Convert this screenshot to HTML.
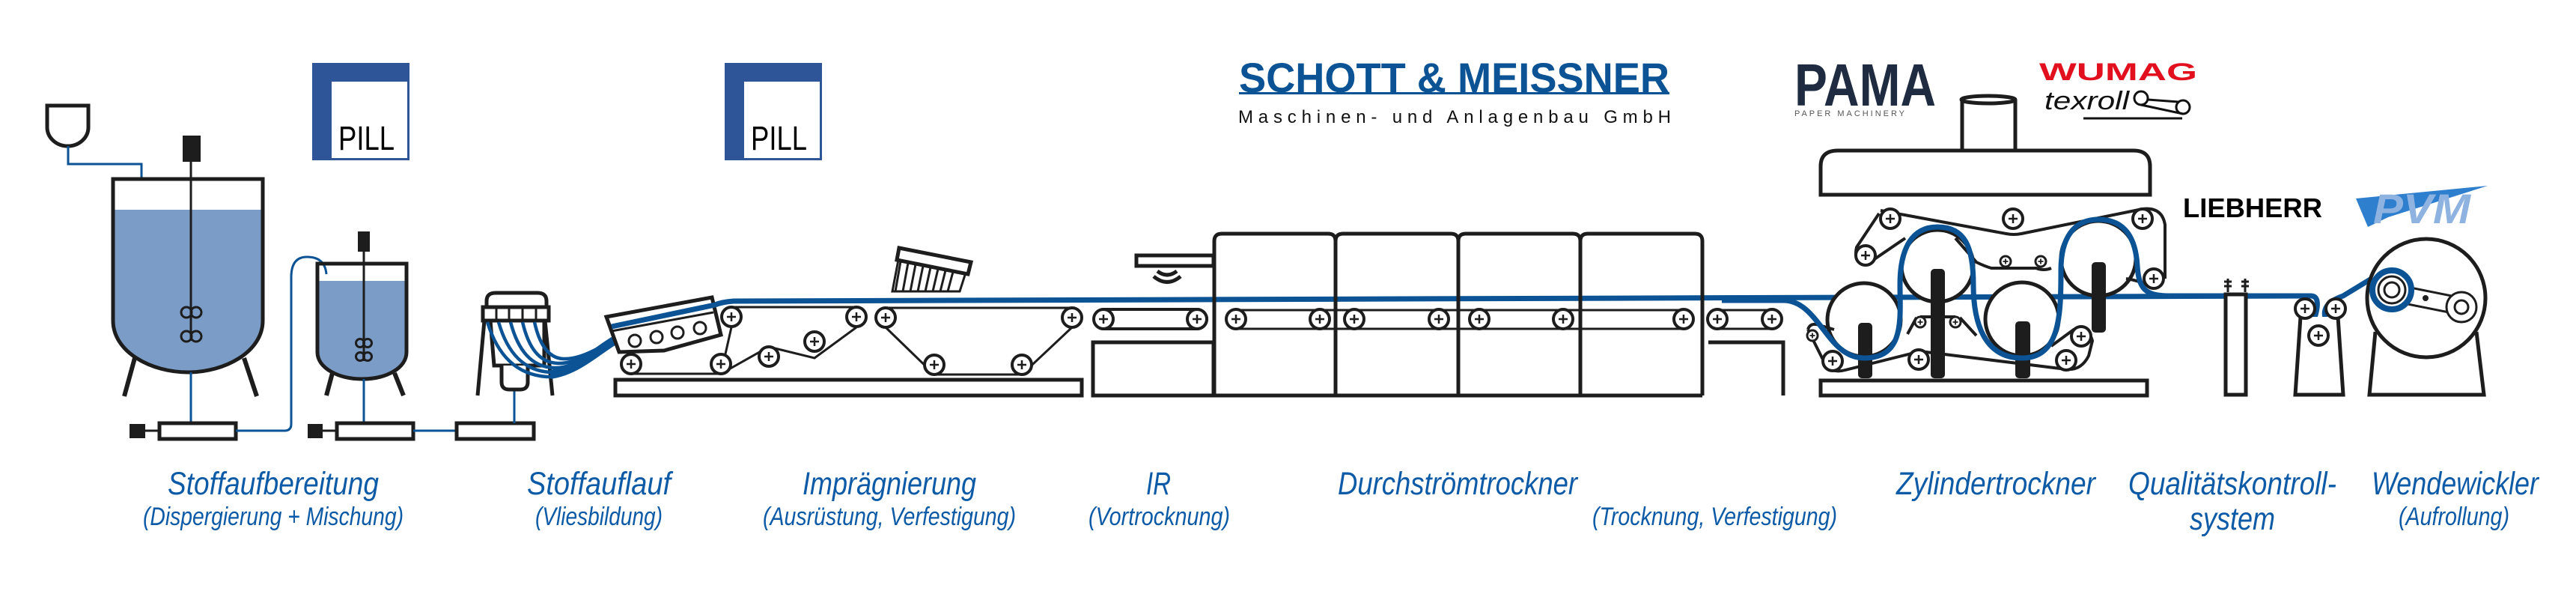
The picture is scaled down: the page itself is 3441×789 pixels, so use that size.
<!DOCTYPE html>
<html><head><meta charset="utf-8"><style>
html,body{margin:0;padding:0;background:#fff;}
svg{display:block}
</style></head><body>
<svg width="3441" height="789" viewBox="0 0 3441 789" xmlns="http://www.w3.org/2000/svg">
<defs>
<g id="r"><circle r="13" fill="#fff" stroke="#1d1d1d" stroke-width="4"/><path d="M-6 0H6M0 -6V6" stroke="#1d1d1d" stroke-width="2.5"/></g>
<g id="rs"><circle r="7" fill="#fff" stroke="#1d1d1d" stroke-width="3"/><path d="M-3.5 0H3.5M0 -3.5V3.5" stroke="#1d1d1d" stroke-width="1.8"/></g>
</defs>
<g fill="none" stroke="#1d1d1d" stroke-width="5">
<!-- funnel -->
<path d="M63 141H118V170A27.5 25 0 0 1 63 170Z" fill="#fff"/>
<path d="M91 195V219H189V239" stroke="#0b5394" stroke-width="3"/>
<!-- tank1 -->
<path d="M152 280H350V428C350 470 300 497 251 497C202 497 152 470 152 428Z" fill="#7b9cc6" stroke="none"/>
<path d="M151 239H351V428C351 470 300 497 251 497C202 497 151 470 151 428Z"/>
<path d="M180 478L166 529M326 478L343 529" stroke-width="6"/>
<rect x="244" y="181" width="24" height="35" fill="#1d1d1d" stroke="none"/>
<path d="M255 216V455" stroke-width="3"/>
<circle cx="249" cy="417" r="7" stroke-width="3"/><circle cx="262" cy="417" r="7" stroke-width="3"/>
<circle cx="249" cy="449" r="7" stroke-width="3"/><circle cx="262" cy="449" r="7" stroke-width="3"/>
<path d="M255 497V565" stroke="#0b5394" stroke-width="3"/>
<rect x="213" y="565" width="102" height="21" fill="#fff"/>
<rect x="173" y="566" width="21" height="19" fill="#1d1d1d" stroke="none"/>
<path d="M194 575H213" stroke-width="3"/>
<path d="M315 575H380Q389 575 389 566V370Q389 343 410 343Q434 343 436 366" stroke="#0b5394" stroke-width="3"/>
<!-- tank2 -->
<path d="M425 375H542V470C542 492 515 506 484 506C453 506 425 492 425 470Z" fill="#7b9cc6" stroke="none"/>
<path d="M424 352H543V470C543 492 515 506 484 506C453 506 424 492 424 470Z"/>
<path d="M444 498L436 528M527 498L539 528" stroke-width="6"/>
<rect x="478" y="309" width="16" height="27" fill="#1d1d1d" stroke="none"/>
<path d="M486 336V482" stroke-width="3"/>
<circle cx="481" cy="458" r="5.5" stroke-width="3"/><circle cx="491" cy="458" r="5.5" stroke-width="3"/>
<circle cx="481" cy="476" r="5.5" stroke-width="3"/><circle cx="491" cy="476" r="5.5" stroke-width="3"/>
<path d="M486 506V565" stroke="#0b5394" stroke-width="3"/>
<rect x="450" y="565" width="102" height="21" fill="#fff"/>
<rect x="411" y="566" width="20" height="19" fill="#1d1d1d" stroke="none"/>
<path d="M431 575H450" stroke-width="3"/>
<path d="M552 575H610" stroke="#0b5394" stroke-width="3"/>
<rect x="610" y="565" width="103" height="21" fill="#fff"/>
<path d="M687 565V518" stroke="#0b5394" stroke-width="3"/>
<!-- headbox -->
<path d="M647 428L638 528M728 428L738 528" stroke-width="5"/>
<path d="M655 428L660 488H727L727 428" fill="#fff"/>
<path d="M670 488V510Q670 520 680 520H695Q705 520 705 510V488" fill="#fff"/>
<path d="M650 410V402Q650 391 662 391H718Q730 391 730 402V410" fill="#fff"/>
<rect x="645" y="410" width="88" height="18" fill="#fff"/>
<path d="M663 410V428M680 410V428M698 410V428M716 410V428" stroke-width="3"/>
<g stroke="#0b5394" stroke-width="4.5">
<path d="M651 430C665 475 690 500 730 503C760 504 790 475 818 455"/>
<path d="M666 430C678 472 700 495 735 497C765 498 790 472 818 455"/>
<path d="M682 430C692 468 710 490 740 491C768 492 792 470 818 455"/>
<path d="M698 430C706 464 720 484 745 485C770 486 795 468 818 455"/>
<path d="M714 430C720 458 732 478 752 479C775 480 797 466 818 455"/>
</g>
<path d="M735 500C770 495 795 470 820 455" stroke="#0b5394" stroke-width="12"/>
<!-- former -->
<path d="M810 423L951 397L963 447L887 468L827 470Z" fill="#fff"/>
<path d="M817 442L953 417" stroke-width="3"/>
<circle cx="848" cy="455" r="8" stroke-width="3"/><circle cx="877" cy="450" r="8" stroke-width="3"/>
<circle cx="905" cy="444" r="8" stroke-width="3"/><circle cx="935" cy="438" r="8" stroke-width="3"/>
<path d="M817 436L955 407Q965 403 980 402L3087 395" stroke="#0b5394" stroke-width="7"/>
<!-- impregnation conveyor -->
<rect x="822" y="507" width="623" height="21" fill="#fff"/>
<path d="M843 499H963L1027 463L1088 478L1144 437M977 410H1144M977 437L963 499" stroke-width="3"/>
<path d="M1183 411H1432M1183 437L1248 500H1365L1432 437" stroke-width="3"/>
<!-- brush -->
<path d="M1201 331L1297 350L1293 366L1198 347Z" fill="#fff"/>
<path d="M1200 347L1192 389H1282L1290 364M1203 349L1196 389M1213 351L1206 389M1223 353L1216 389M1233 355L1226 389M1243 357L1236 389M1253 359L1246 389M1263 361L1256 389M1273 363L1266 389" stroke-width="3"/>
<!-- IR -->
<rect x="1518" y="341" width="103" height="14" fill="#fff"/>
<path d="M1546 362Q1559 372 1572 362" stroke-width="5"/>
<path d="M1541 369Q1559 384 1577 369" stroke-width="5"/>
<rect x="1462" y="413" width="150" height="26" rx="13" stroke-width="4"/>
<rect x="1460" y="457" width="161" height="71" fill="#fff"/>
<!-- dryer chambers -->
<path d="M1622 528V322Q1622 312 1632 312H1774Q1784 312 1784 322V528M1784 322Q1784 312 1794 312H1938Q1948 312 1948 322V528M1948 322Q1948 312 1958 312H2101Q2111 312 2111 322V528M2111 322Q2111 312 2121 312H2264Q2274 312 2274 322V528M1622 528H2274"/>
<path d="M1651 414H2249M1651 439H2249" stroke-width="3"/>
<path d="M2282 457H2382V528" />
<path d="M2294 414H2367M2294 439H2367" stroke-width="3"/>
<!-- cylinder dryer -->
<path d="M2621 201V133M2692 201V133" />
<ellipse cx="2656" cy="133" rx="36" ry="5" fill="#fff"/>
<path d="M2432 260V222Q2432 201 2455 201H2850Q2872 201 2872 222V260Z" fill="#fff"/>
<rect x="2432" y="508" width="436" height="20" fill="#fff"/>
<circle cx="2490" cy="427" r="49" fill="#fff"/>
<circle cx="2588" cy="355" r="48" fill="#fff"/>
<circle cx="2701" cy="426" r="49" fill="#fff"/>
<circle cx="2803" cy="345" r="50" fill="#fff"/>
<!-- felts -->
<path d="M2512 281L2680 312Q2690 314 2700 312L2862 279Q2888 276 2892 300L2892 372M2879 385Q2860 375 2840 372M2740 358Q2730 362 2720 358L2660 358Q2650 355 2640 350L2612 318M2545 318L2495 352Q2475 352 2480 330L2510 285" stroke-width="4"/>
<path d="M2415 440L2440 490Q2450 498 2465 494L2565 469L2760 493Q2780 495 2790 475L2795 455Q2790 436 2770 440L2740 462M2618 424L2640 448M2560 424L2548 446M2565 423H2612" stroke-width="4"/>
<path d="M2415 440Q2418 430 2430 434L2450 440" stroke-width="4"/>
<rect x="2482" y="431" width="19" height="74" rx="5" fill="#1d1d1d" stroke="none"/>
<rect x="2579" y="359" width="19" height="146" rx="5" fill="#1d1d1d" stroke="none"/>
<rect x="2692" y="429" width="20" height="76" rx="5" fill="#1d1d1d" stroke="none"/>
<rect x="2794" y="350" width="19" height="94" rx="5" fill="#1d1d1d" stroke="none"/>
<path d="M2300 401H2382C2430 401 2440 478 2490 478C2545 478 2538 425 2538 380C2538 330 2555 303 2588 303C2625 303 2636 330 2636 380C2636 430 2650 478 2701 478C2752 478 2753 420 2753 360C2753 318 2770 293 2803 293C2840 293 2853 320 2855 355C2857 390 2870 395 2900 395H3087C3100 395 3096 415 3088 435C3080 455 3090 465 3100 465C3115 465 3115 450 3108 430C3100 412 3110 402 3130 395L3176 367" stroke="#0b5394" stroke-width="7"/>
<!-- QC -->
<rect x="2973" y="393" width="27" height="134" fill="#fff"/>
<path d="M2976 372V390M2999 372V390M2971 376H2981M2971 382H2981M2994 376H3004M2994 382H3004" stroke-width="3"/>
<path d="M3073 423L3066 527H3130L3123 423" fill="#fff"/>
<!-- winder -->
<path d="M3173 443L3165 527H3318L3308 443" fill="#fff"/>
<circle cx="3241" cy="398" r="79" fill="#fff"/>
<path d="M3200 380L3290 398L3286 420L3196 402Z" fill="#fff" stroke-width="3"/>
<circle cx="3240" cy="398" r="4" fill="#1d1d1d" stroke="none"/>
<circle cx="3195" cy="387" r="26" fill="#fff" stroke="#0b5394" stroke-width="8"/>
<circle cx="3195" cy="387" r="18" fill="#fff" stroke-width="3"/>
<circle cx="3195" cy="387" r="10" fill="#fff" stroke-width="3"/>
<circle cx="3288" cy="410" r="20" fill="#fff" stroke-width="3"/>
<circle cx="3288" cy="410" r="9" fill="#fff" stroke-width="3"/>
</g>
<!-- rollers -->
<g>
<use href="#r" x="977" y="423"/><use href="#r" x="1144" y="423"/>
<use href="#r" x="843" y="486"/><use href="#r" x="963" y="486"/><use href="#r" x="1027" y="476"/><use href="#r" x="1088" y="456"/>
<use href="#r" x="1183" y="424"/><use href="#r" x="1432" y="424"/><use href="#r" x="1248" y="487"/><use href="#r" x="1365" y="487"/>
<use href="#r" x="1474" y="426"/><use href="#r" x="1599" y="426"/>
<use href="#r" x="1651" y="426"/><use href="#r" x="1763" y="426"/><use href="#r" x="1809" y="426"/><use href="#r" x="1922" y="426"/><use href="#r" x="1976" y="426"/><use href="#r" x="2088" y="426"/><use href="#r" x="2249" y="426"/>
<use href="#r" x="2294" y="426"/><use href="#r" x="2367" y="426"/>
<use href="#r" x="2525" y="292"/><use href="#r" x="2689" y="292"/><use href="#r" x="2862" y="292"/><use href="#r" x="2492" y="341"/><use href="#r" x="2877" y="372"/>
<use href="#rs" x="2679" y="349"/><use href="#rs" x="2726" y="349"/>
<use href="#rs" x="2421" y="448"/><use href="#r" x="2448" y="482"/><use href="#r" x="2563" y="480"/>
<use href="#rs" x="2565" y="430"/><use href="#rs" x="2612" y="430"/>
<use href="#r" x="2780" y="449"/><use href="#r" x="2760" y="481"/>
<use href="#r" x="3079" y="412"/><use href="#r" x="3120" y="412"/><use href="#r" x="3097" y="448"/>
</g>
<!-- PILL logos -->
<g>
<rect x="417" y="84" width="130" height="130" fill="#2e5597"/>
<rect x="443" y="109" width="101" height="102" fill="#fff"/>
<text x="452" y="200" font-family="Liberation Sans, sans-serif" font-size="45" textLength="75" lengthAdjust="spacingAndGlyphs" fill="#000">PILL</text>
<rect x="968" y="84" width="130" height="130" fill="#2e5597"/>
<rect x="994" y="109" width="101" height="102" fill="#fff"/>
<text x="1003" y="200" font-family="Liberation Sans, sans-serif" font-size="45" textLength="75" lengthAdjust="spacingAndGlyphs" fill="#000">PILL</text>
</g>
<!-- Schott -->
<text x="1655" y="123" font-family="Liberation Sans, sans-serif" font-weight="bold" font-size="56" fill="#0b5394" textLength="575" lengthAdjust="spacingAndGlyphs">SCHOTT &amp; MEISSNER</text>
<rect x="1655" y="123" width="575" height="3" fill="#0b5394"/>
<text x="1654" y="164" font-family="Liberation Sans, sans-serif" font-size="24" fill="#111" textLength="578" lengthAdjust="spacing">Maschinen- und Anlagenbau GmbH</text>
<!-- PAMA -->
<text x="2397" y="141" font-family="Liberation Sans, sans-serif" font-weight="bold" font-size="80" fill="#1e2b40" textLength="189" lengthAdjust="spacingAndGlyphs">PAMA</text>
<text x="2397" y="155" font-family="Liberation Sans, sans-serif" font-size="11" fill="#555" textLength="147" lengthAdjust="spacing">PAPER MACHINERY</text>
<!-- WUMAG -->
<text x="2724" y="107" font-family="Liberation Sans, sans-serif" font-weight="bold" font-size="32" fill="#e2101e" textLength="211" lengthAdjust="spacingAndGlyphs">WUMAG</text>
<text x="2731" y="146" font-family="Liberation Sans, sans-serif" font-style="italic" font-size="34" fill="#111" textLength="113" lengthAdjust="spacingAndGlyphs">texroll</text>
<g fill="none" stroke="#111" stroke-width="3"><circle cx="2860" cy="131" r="9"/><circle cx="2916" cy="143" r="9"/><path d="M2869 133L2910 136M2860 140L2916 152M2783 158H2915"/></g>
<!-- Liebherr -->
<text x="2916" y="290" font-family="Liberation Sans, sans-serif" font-weight="bold" font-size="36" fill="#000" textLength="186" lengthAdjust="spacingAndGlyphs">LIEBHERR</text>
<!-- PVM -->
<path d="M3147 265L3323 248L3190 290L3163 303Z" fill="#2f7fcf"/>
<text x="3170" y="298" font-family="Liberation Sans, sans-serif" font-weight="bold" font-style="italic" font-size="56" fill="#8fb3e0" textLength="130" lengthAdjust="spacingAndGlyphs">PVM</text>
<!-- labels -->
<g font-family="Liberation Sans, sans-serif" font-style="italic" fill="#0d5aa7">
<g font-size="43">
<text x="224" y="660" textLength="282" lengthAdjust="spacingAndGlyphs">Stoffaufbereitung</text>
<text x="704" y="660" textLength="192" lengthAdjust="spacingAndGlyphs">Stoffauflauf</text>
<text x="1072" y="660" textLength="232" lengthAdjust="spacingAndGlyphs">Imprägnierung</text>
<text x="1531" y="660" textLength="33" lengthAdjust="spacingAndGlyphs">IR</text>
<text x="1787" y="660" textLength="320" lengthAdjust="spacingAndGlyphs">Durchströmtrockner</text>
<text x="2533" y="660" textLength="266" lengthAdjust="spacingAndGlyphs">Zylindertrockner</text>
<text x="2843" y="660" textLength="278" lengthAdjust="spacingAndGlyphs">Qualitätskontroll-</text>
<text x="2925" y="707" textLength="114" lengthAdjust="spacingAndGlyphs">system</text>
<text x="3168" y="660" textLength="223" lengthAdjust="spacingAndGlyphs">Wendewickler</text>
</g>
<g font-size="34">
<text x="191" y="701" textLength="348" lengthAdjust="spacingAndGlyphs">(Dispergierung + Mischung)</text>
<text x="715" y="701" textLength="170" lengthAdjust="spacingAndGlyphs">(Vliesbildung)</text>
<text x="1019" y="701" textLength="338" lengthAdjust="spacingAndGlyphs">(Ausrüstung, Verfestigung)</text>
<text x="1454" y="701" textLength="189" lengthAdjust="spacingAndGlyphs">(Vortrocknung)</text>
<text x="2127" y="701" textLength="327" lengthAdjust="spacingAndGlyphs">(Trocknung, Verfestigung)</text>
<text x="3204" y="701" textLength="148" lengthAdjust="spacingAndGlyphs">(Aufrollung)</text>
</g>
</g>
</svg>
</body></html>
